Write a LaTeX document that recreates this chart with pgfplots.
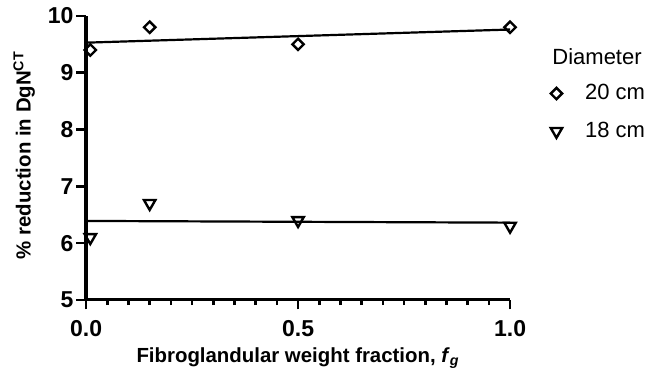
\documentclass[border=0pt]{standalone}
\usepackage{fontspec}
\setmainfont{Liberation Sans}
\usepackage{pgfplots}
\pgfplotsset{compat=1.18}
\begin{document}
\begin{tikzpicture}
\begin{axis}[
  scale only axis, width=212pt, height=142pt,
  xmin=0, xmax=1, ymin=5, ymax=10,
  axis lines=left,
  axis line style={line width=1.6pt, -},
  every tick/.style={black, line width=1.3pt},
  tick align=outside,
  major tick length=4.8pt, minor tick length=2.6pt,
  xtick={0,0.5,1}, minor x tick num=9,
  ytick={5,6,7,8,9,10},
  /pgf/number format/assume math mode=true,
  xticklabel style={yshift=-2pt, /pgf/number format/.cd, fixed, fixed zerofill, precision=1},
  yticklabel style={xshift=2pt},
  ticklabel style={font=\fontsize{11.5}{13}\selectfont\bfseries},
  xlabel={Fibroglandular weight fraction, \textit{f}\textsubscript{\textit{g}}},
  ylabel={\% reduction in DgN\textsuperscript{CT}},
  label style={font=\fontsize{10.2}{12}\selectfont\bfseries},
  ylabel style={at={(axis description cs:-0.146,0.51)}, anchor=center},
  xlabel style={at={(axis description cs:0.5,-0.219)}, anchor=base},
  clip=false,
  legend style={draw=none, fill=none, at={(axis description cs:1.095,0.7745)}, anchor=north west,
    font=\fontsize{11}{13}\selectfont, row sep=5.7pt, inner sep=0pt},
  legend cell align=left,
]
\addplot[only marks, mark=square, mark size=2pt, mark options={rotate=45, line width=1.2pt, fill=white}]
  coordinates {(0.01,9.4) (0.15,9.8) (0.5,9.5) (1.0,9.8)};
\addlegendentry{\hspace{9.5pt}20 cm}
\addplot[only marks, mark=triangle, mark size=3.3pt, mark options={rotate=180, line width=1.2pt, fill=white}]
  coordinates {(0.01,6.1) (0.15,6.7) (0.5,6.4) (1.0,6.3)};
\addlegendentry{\hspace{9.5pt}18 cm}
\addplot[black, line width=1.1pt, forget plot] coordinates {(0.005,9.53) (1.0,9.76)};
\addplot[black, line width=1.1pt, forget plot] coordinates {(0.005,6.39) (1.0,6.36)};
\node[anchor=west, font=\fontsize{11}{13}\selectfont, inner sep=0pt] at (axis description cs:1.099,0.856) {Diameter};
\coordinate (bbA) at (axis description cs:-0.203,-0.2645);
\coordinate (bbB) at (axis description cs:1.323,1.056);
\end{axis}
\pgfresetboundingbox
\useasboundingbox (bbA) rectangle (bbB);
\end{tikzpicture}
\end{document}
